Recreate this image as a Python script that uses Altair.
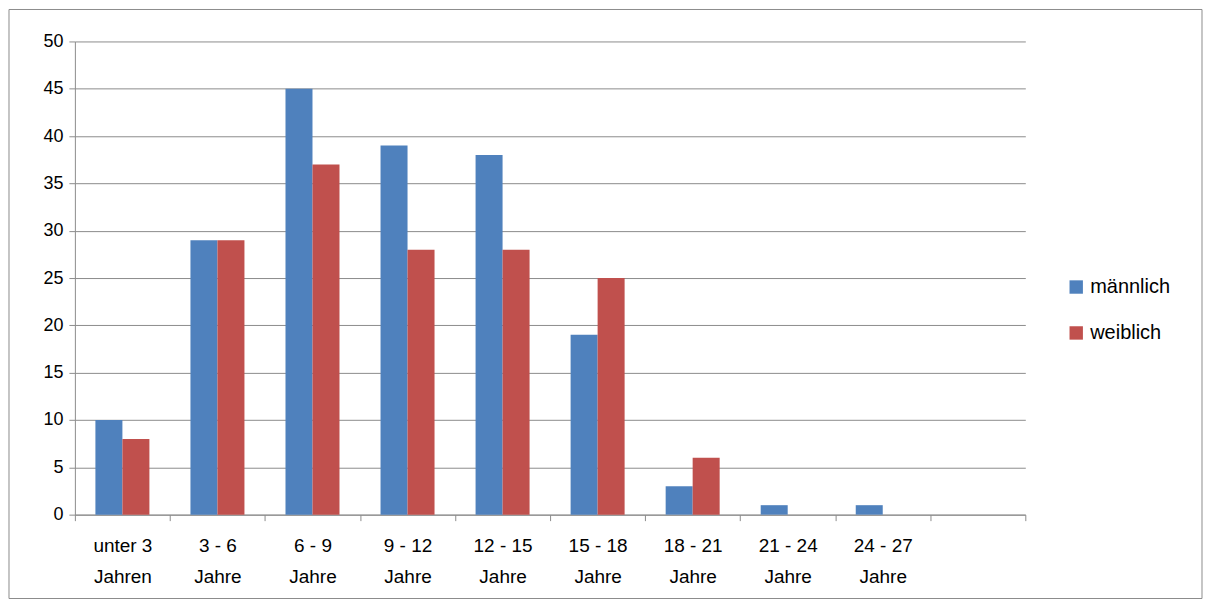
import altair as alt
import pandas as pd

CATEGORIES = ["unter 3|Jahren", "3 - 6|Jahre", "6 - 9|Jahre", "9 - 12|Jahre", "12 - 15|Jahre",
              "15 - 18|Jahre", "18 - 21|Jahre", "21 - 24|Jahre", "24 - 27|Jahre", " "]
MAENNLICH = [10, 29, 45, 39, 38, 19, 3, 1, 1, None]
WEIBLICH = [8, 29, 37, 28, 28, 25, 6, 0, 0, None]
SERIES = ["männlich", "weiblich"]
COLORS = ["#4F81BD", "#C0504D"]
GRID = "#8c8c8c"
FONT = "Liberation Sans"

rows = []
for c, m, w in zip(CATEGORIES, MAENNLICH, WEIBLICH):
    rows.append({"Kategorie": c, "Geschlecht": "männlich", "Wert": m})
    rows.append({"Kategorie": c, "Geschlecht": "weiblich", "Wert": w})
df = pd.DataFrame(rows)

W, H = 952, 474

bars = (
    alt.Chart(df)
    .mark_bar()
    .encode(
        x=alt.X("Kategorie:N", sort=CATEGORIES, title=None,
                scale=alt.Scale(paddingInner=0, paddingOuter=0),
                axis=alt.Axis(labelAngle=0, labelExpr="split(datum.label, '|')",
                              labelFontSize=19, labelColor="#000", labelLineHeight=31,
                              labelPadding=16, tickBand="extent", tickSize=6,
                              domainColor=GRID, tickColor=GRID, grid=False)),
        xOffset=alt.XOffset("Geschlecht:N", sort=SERIES,
                            scale=alt.Scale(paddingInner=0, paddingOuter=0.76)),
        y=alt.Y("Wert:Q", title=None,
                scale=alt.Scale(domain=[0, 50]),
                axis=alt.Axis(values=list(range(0, 55, 5)), labelFontSize=18,
                              labelColor="#000", gridColor=GRID, domainColor=GRID,
                              tickColor=GRID, tickSize=6, labelPadding=6)),
        color=alt.Color("Geschlecht:N", sort=SERIES,
                        scale=alt.Scale(domain=SERIES, range=COLORS),
                        legend=alt.Legend(title=None, orient="none", legendX=993, legendY=236,
                                          symbolType="square", symbolSize=180,
                                          symbolStrokeWidth=0, labelFontSize=20,
                                          labelColor="#000", rowPadding=26)),
    )
)

frame = (
    alt.Chart(pd.DataFrame({"a": [0]}))
    .mark_rect(fill=None, stroke=GRID, strokeWidth=1, clip=False)
    .encode(x=alt.value(-66), x2=alt.value(W + 177), y=alt.value(-32), y2=alt.value(H + 84))
)

chart = (
    alt.layer(bars, frame)
    .properties(width=W, height=H, autosize=alt.AutoSizeParams(type="none"),
                padding={"left": 67, "top": 33, "right": 180, "bottom": 85})
    .configure(font=FONT, background="white")
    .configure_view(stroke=None)
)

chart.save("out.html", embed_options={"renderer": "svg", "actions": False})
